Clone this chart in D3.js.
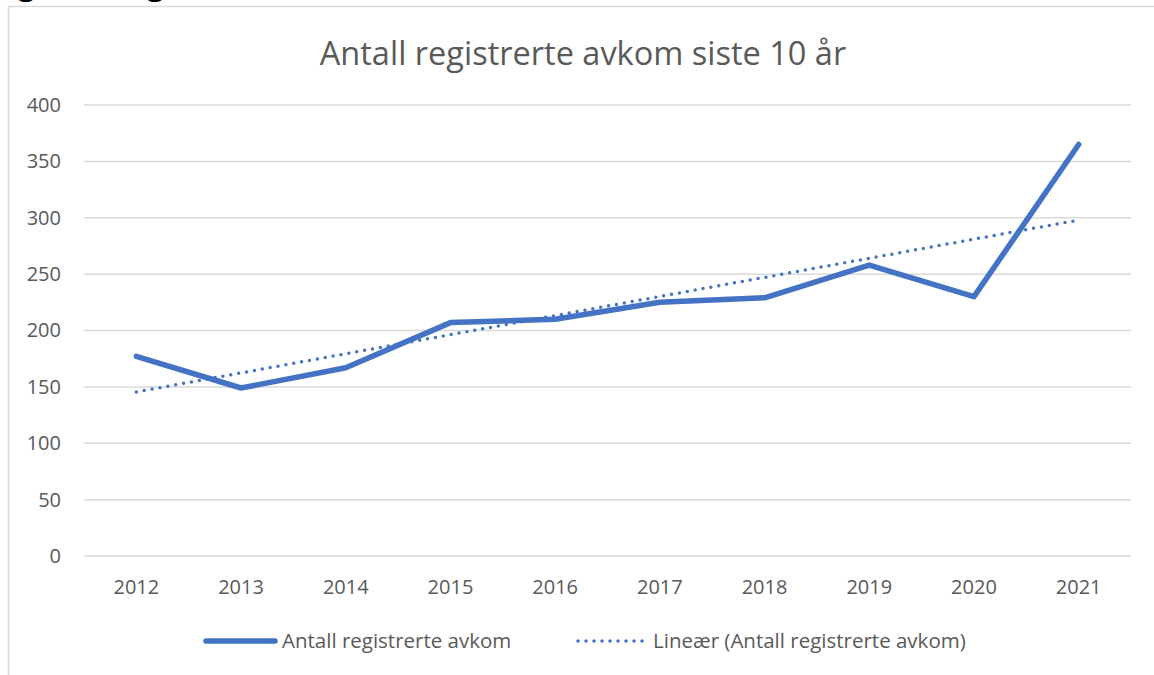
<!DOCTYPE html>
<html>
<head>
<meta charset="utf-8">
<script src="https://cdn.jsdelivr.net/npm/d3@7"></script>
<style>
  body { margin: 0; background: #fff; }
  text { font-family: "Open Sans", Lato, sans-serif; }
</style>
</head>
<body>
<div id="chart"></div>
<script>
var years = ["2012","2013","2014","2015","2016","2017","2018","2019","2020","2021"];
var avkom = [177, 149, 167, 207, 210, 225, 229, 258, 230, 365];
var yTicks = [0, 50, 100, 150, 200, 250, 300, 350, 400];
var title = "Antall registrerte avkom siste 10 år";
var seriesName = "Antall registrerte avkom";
var trendName = "Lineær (Antall registrerte avkom)";

var w = 1154, h = 675;
var blue = "#4472c4", grid = "#d9d9d9", txt = "#595959";

var svg = d3.select("#chart").append("svg")
  .attr("width", w)
  .attr("height", h);

// bits of heading from the page above, cut off
svg.append("text").attr("x", 18).attr("y", -5.5)
  .style("font-weight", "bold").style("font-size", "30px").text("g");
svg.append("text").attr("x", 147).attr("y", -5.5)
  .style("font-weight", "bold").style("font-size", "30px").text("g");

// chart frame
svg.append("rect")
  .attr("x", 8.5).attr("y", 6.5)
  .attr("width", w + 20).attr("height", h + 20)
  .attr("fill", "none")
  .attr("stroke", grid)
  .attr("stroke-width", 1.5);

var pLeft = 84, pRight = 1131, pTop = 105, pBottom = 556;

var x = d3.scaleBand().domain(years).range([pLeft, pRight]);
var y = d3.scaleLinear().domain([0, 400]).range([pBottom, pTop]);
var cx = function(d) { return x(d) + x.bandwidth() / 2; };

// gridlines
svg.append("g").selectAll("line")
  .data(yTicks)
  .enter().append("line")
  .attr("x1", pLeft).attr("x2", pRight)
  .attr("y1", function(d) { return y(d); })
  .attr("y2", function(d) { return y(d); })
  .attr("stroke", grid)
  .attr("stroke-width", 1.5);

// y axis labels
var yAxis = svg.append("g")
  .attr("transform", "translate(" + (pLeft - 23) + ",0)")
  .call(d3.axisLeft(y).tickValues(yTicks).tickSize(0).tickPadding(0));
yAxis.select(".domain").remove();
yAxis.selectAll("text")
  .attr("fill", txt)
  .style("font-size", "20px")
  .style("font-family", "'Open Sans', sans-serif");

// x axis labels
var xAxis = svg.append("g")
  .attr("transform", "translate(0," + (pBottom + 24) + ")")
  .call(d3.axisBottom(x).tickSize(0).tickPadding(0));
xAxis.select(".domain").remove();
xAxis.selectAll("text")
  .attr("fill", txt)
  .style("font-size", "20px")
  .style("font-family", "'Open Sans', sans-serif");

// title
svg.append("text")
  .attr("x", 583).attr("y", 65)
  .attr("text-anchor", "middle")
  .attr("fill", txt)
  .style("font-size", "32.5px")
  .text(title);

// linear trend (least squares, like Excel's trendline)
var n = avkom.length;
var mx = d3.mean(d3.range(n)), my = d3.mean(avkom);
var slope = d3.sum(avkom, function(v, i) { return (i - mx) * (v - my); }) /
            d3.sum(d3.range(n), function(i) { return (i - mx) * (i - mx); });
var icpt = my - slope * mx;
var trend = years.map(function(yr, i) { return { year: yr, v: icpt + slope * i }; });

var line = d3.line()
  .x(function(d) { return cx(d.year); })
  .y(function(d) { return y(d.v); });

svg.append("path")
  .datum(trend)
  .attr("d", line)
  .attr("fill", "none")
  .attr("stroke", blue)
  .attr("stroke-width", 3.5)
  .attr("stroke-linecap", "round")
  .attr("stroke-dasharray", "0 8");

svg.append("path")
  .datum(years.map(function(yr, i) { return { year: yr, v: avkom[i] }; }))
  .attr("d", line)
  .attr("fill", "none")
  .attr("stroke", blue)
  .attr("stroke-width", 5.5)
  .attr("stroke-linejoin", "round")
  .attr("stroke-linecap", "round");

// legend
var lg = svg.append("g").attr("transform", "translate(0,641)");
lg.append("line")
  .attr("x1", 206).attr("x2", 275)
  .attr("stroke", blue).attr("stroke-width", 5.5)
  .attr("stroke-linecap", "round");
lg.append("text")
  .attr("x", 282).attr("y", 7)
  .attr("fill", txt).style("font-size", "20.5px")
  .text(seriesName);
lg.append("line")
  .attr("x1", 578).attr("x2", 645)
  .attr("stroke", blue).attr("stroke-width", 3.5)
  .attr("stroke-linecap", "round")
  .attr("stroke-dasharray", "0 8");
lg.append("text")
  .attr("x", 653).attr("y", 7)
  .attr("fill", txt).style("font-size", "20.5px")
  .text(trendName);
</script>
</body>
</html>
